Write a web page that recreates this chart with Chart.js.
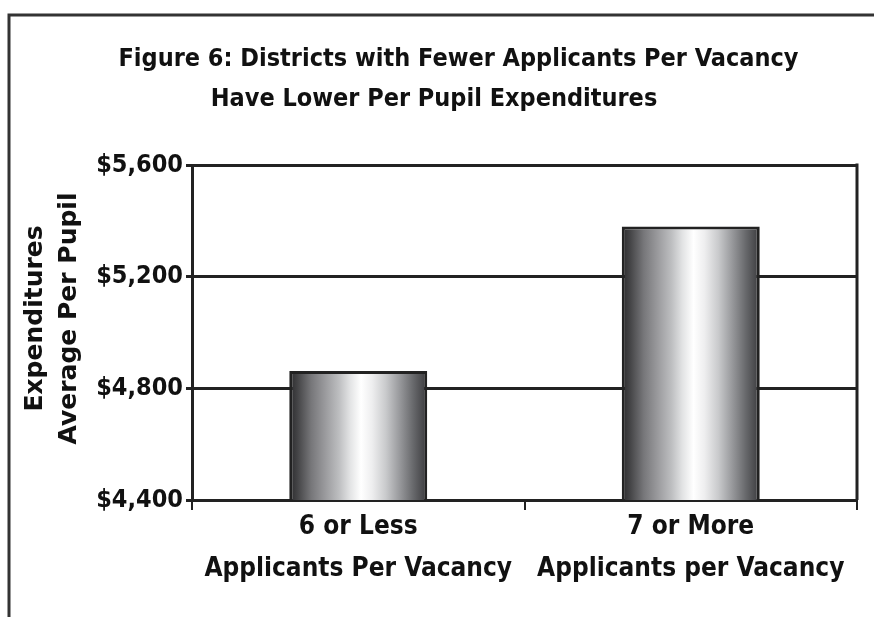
<!DOCTYPE html>
<html>
<head>
<meta charset="utf-8">
<title>Figure 6</title>
<script src="https://cdn.jsdelivr.net/npm/chart.js@4.4.1/dist/chart.umd.min.js"></script>
<style>
  html, body { margin: 0; padding: 0; background: #fff; }
  #wrap { position: relative; width: 874px; height: 617px; }
</style>
</head>
<body>
<div id="wrap"><canvas id="expChart"></canvas></div>
<script>
// data
const categories = [
    ['6 or Less', 'Applicants Per Vacancy'],
    ['7 or More', 'Applicants per Vacancy']
];
const expenditures = [4862, 5380];
const yTicks = [4400, 4800, 5200, 5600];

const titleLine1 = 'Figure 6: Districts with Fewer Applicants Per Vacancy';
const titleLine2 = 'Have Lower Per Pupil Expenditures';

const narrow = "'DejaVu Sans Condensed', 'Liberation Sans Narrow', sans-serif";
const ink = '#222';

// page frame (top + left rule), right edge of the plot box,
// and a couple of placement nudges for the title blocks
const framePlugin = {
    id: 'frame',
    afterLayout(chart) {
        // the two heading lines are not centred on the same point in the original
        chart.titleBlock.left = 60;
        chart.boxes.forEach(b => {
            if (b.options && b.options.text === titleLine2) {
                b.left = 0;
                b.right = 868;
            }
        });
        const ys = chart.scales.y;
        if (!ys._nudged) {
            const orig = ys.drawTitle;
            ys.drawTitle = function () {
                this.ctx.save();
                this.ctx.translate(0, -14);
                orig.call(this);
                this.ctx.restore();
            };
            ys._nudged = true;
        }
    },
    afterDraw(chart) {
        const c = chart.ctx;
        const a = chart.chartArea;
        c.save();
        c.strokeStyle = '#333';
        c.lineWidth = 3;
        c.beginPath();
        c.moveTo(874, 15);
        c.lineTo(9, 15);
        c.lineTo(9, 617);
        c.stroke();
        c.strokeStyle = ink;
        c.beginPath();
        c.moveTo(a.right, a.top - 1.5);
        c.lineTo(a.right, a.bottom);
        c.stroke();
        c.restore();
    }
};

// cylinder style shading across each bar
function barShade(context) {
    const chart = context.chart;
    const area = chart.chartArea;
    if (!area) return '#aaa';
    const x = chart.scales.x.getPixelForValue(context.dataIndex);
    const w = (area.right - area.left) / categories.length * 0.415;
    const g = chart.ctx.createLinearGradient(x - w / 2, 0, x + w / 2, 0);
    g.addColorStop(0, '#2a2a2c');
    g.addColorStop(0.06, '#444446');
    g.addColorStop(0.16, '#77777a');
    g.addColorStop(0.26, '#9a9a9d');
    g.addColorStop(0.36, '#bdbec0');
    g.addColorStop(0.44, '#e2e3e4');
    g.addColorStop(0.52, '#ffffff');
    g.addColorStop(0.6, '#eeeeef');
    g.addColorStop(0.7, '#c9cacc');
    g.addColorStop(0.8, '#98999c');
    g.addColorStop(0.9, '#67686b');
    g.addColorStop(1, '#3a3a3d');
    return g;
}

const headingFont = { family: narrow, size: 25, weight: 'bold', lineHeight: 40 / 25 };

new Chart(document.getElementById('expChart'), {
    type: 'bar',
    data: {
        labels: categories,
        datasets: [{
            data: expenditures,
            backgroundColor: barShade,
            borderColor: ink,
            borderWidth: 3,
            borderSkipped: 'start',
            categoryPercentage: 1,
            barPercentage: 0.415
        }]
    },
    options: {
        responsive: true,
        maintainAspectRatio: false,
        animation: false,
        layout: { padding: { left: 0, right: 17, top: 0, bottom: 0 } },
        plugins: {
            legend: { display: false },
            tooltip: { enabled: false },
            title: {
                display: true,
                text: titleLine1,
                color: '#111',
                font: headingFont,
                padding: { top: 39, bottom: 0 }
            },
            subtitle: {
                display: true,
                text: titleLine2,
                color: '#111',
                font: headingFont,
                padding: { top: 0, bottom: 46 }
            }
        },
        scales: {
            y: {
                min: 4400,
                max: 5600,
                afterFit(scale) { scale.width = 192; },
                afterBuildTicks(scale) { scale.ticks = yTicks.map(v => ({ value: v })); },
                ticks: {
                    color: '#111',
                    padding: 3,
                    font: { family: narrow, size: 25, weight: 'bold' },
                    callback: v => '$' + v.toLocaleString('en-US')
                },
                grid: { color: ink, lineWidth: 3, tickLength: 6 },
                border: { color: ink, width: 3 },
                title: {
                    display: true,
                    text: ['Expenditures', 'Average Per Pupil'],
                    color: '#111',
                    font: { family: "'DejaVu Sans', sans-serif", size: 25, weight: 'bold', lineHeight: 34 / 25 },
                    padding: { top: 18, bottom: 0 }
                }
            },
            x: {
                afterFit(scale) { scale.height = 117; },
                ticks: {
                    color: '#111',
                    padding: -4,
                    maxRotation: 0,
                    minRotation: 0,
                    autoSkip: false,
                    font: { family: narrow, size: 26, weight: 'bold', lineHeight: 42 / 26 }
                },
                grid: { offset: true, drawOnChartArea: false, color: ink, lineWidth: 2, tickLength: 10 },
                border: { color: ink, width: 3 }
            }
        }
    },
    plugins: [framePlugin]
});
</script>
</body>
</html>
